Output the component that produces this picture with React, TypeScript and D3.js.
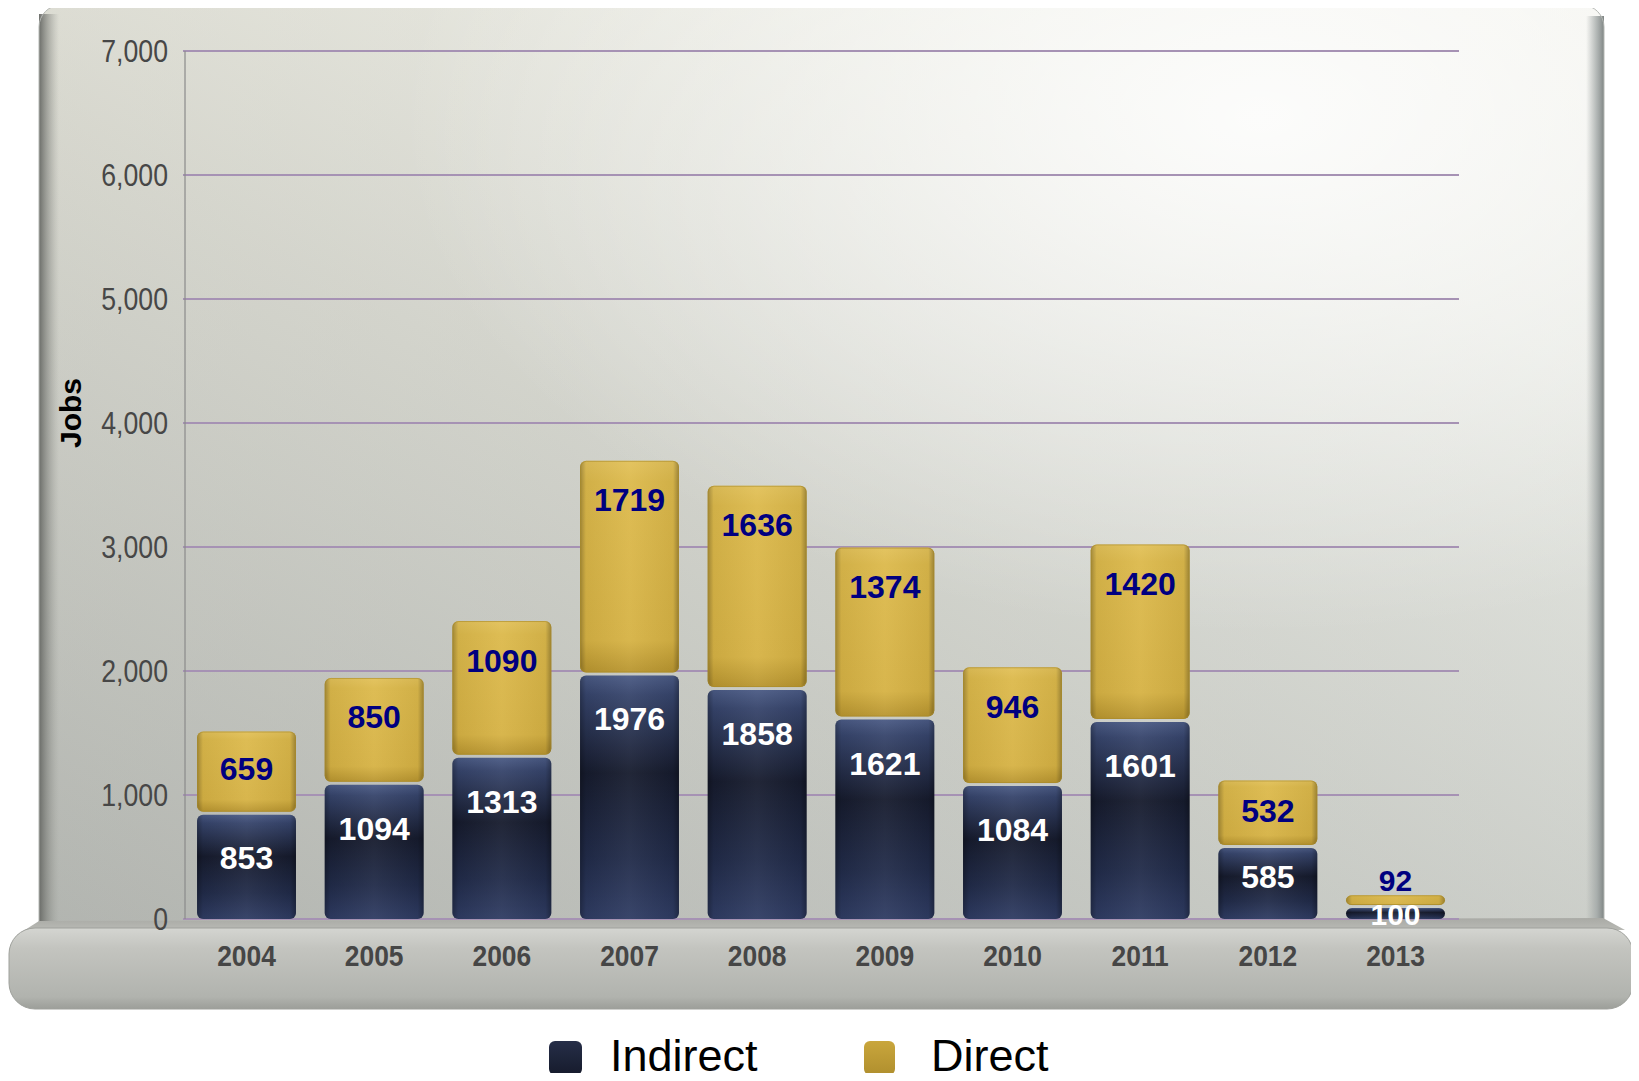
import React from "react";
import * as d3 from "d3";

const years = ["2004", "2005", "2006", "2007", "2008", "2009", "2010", "2011", "2012", "2013"];
const indirect = [853, 1094, 1313, 1976, 1858, 1621, 1084, 1601, 585, 100];
const direct = [659, 850, 1090, 1719, 1636, 1374, 946, 1420, 532, 92];
const yTicks = [0, 1000, 2000, 3000, 4000, 5000, 6000, 7000];
const seriesNames = ["Indirect", "Direct"];

const W = 1639;
const H = 1081;

export default function App() {
  const x = d3.scaleBand<string>().domain(years).range([183, 1459]).paddingInner(0.225).paddingOuter(0.11);
  const y = d3.scaleLinear().domain([0, 7000]).range([919, 51]);
  const fmt = d3.format(",");
  const bw = x.bandwidth();

  const narrow = "'Liberation Sans', Arial, sans-serif";

  return (
    <div style={{ margin: -8, width: W, height: H, background: "#fff" }}>
      <svg width={W} height={H} style={{ display: "block" }}>
        <defs>
          <linearGradient id="panelBase" x1="0" y1="1" x2="1" y2="0">
            <stop offset="0" stopColor="#b5b7b2" />
            <stop offset="0.45" stopColor="#d6d8d2" />
            <stop offset="0.8" stopColor="#f3f6f3" />
            <stop offset="1" stopColor="#fbfdfc" />
          </linearGradient>
          <radialGradient id="panelGlow" cx="0.78" cy="0.12" r="0.55">
            <stop offset="0" stopColor="#ffffff" stopOpacity="0.85" />
            <stop offset="1" stopColor="#ffffff" stopOpacity="0" />
          </radialGradient>
          <linearGradient id="panelTint" x1="0" y1="0" x2="0" y2="1">
            <stop offset="0" stopColor="#e0dccc" stopOpacity="0.35" />
            <stop offset="1" stopColor="#a8aca8" stopOpacity="0.3" />
          </linearGradient>
          <linearGradient id="leftEdge" x1="0" y1="0" x2="1" y2="0">
            <stop offset="0" stopColor="#666864" stopOpacity="0.95" />
            <stop offset="1" stopColor="#9a9c96" stopOpacity="0" />
          </linearGradient>
          <linearGradient id="rightEdge" x1="0" y1="0" x2="1" y2="0">
            <stop offset="0" stopColor="#a3a8a6" stopOpacity="0" />
            <stop offset="0.6" stopColor="#a0a6a5" stopOpacity="0.8" />
            <stop offset="1" stopColor="#7f8584" stopOpacity="1" />
          </linearGradient>
          <linearGradient id="floorFront" x1="0" y1="0" x2="0" y2="1">
            <stop offset="0" stopColor="#d4d5d1" />
            <stop offset="0.25" stopColor="#c3c4bf" />
            <stop offset="0.85" stopColor="#b1b3ae" />
            <stop offset="1" stopColor="#9c9e99" />
          </linearGradient>
          <linearGradient id="floorTop" x1="0" y1="0" x2="0" y2="1">
            <stop offset="0" stopColor="#a9aaa5" />
            <stop offset="1" stopColor="#bfc0bb" />
          </linearGradient>
          <linearGradient id="gIndirect" x1="0" y1="0" x2="0" y2="1">
            <stop offset="0" stopColor="#4a5a84" />
            <stop offset="0.08" stopColor="#36446b" />
            <stop offset="0.4" stopColor="#161b2d" />
            <stop offset="0.75" stopColor="#212b49" />
            <stop offset="1" stopColor="#2f3c63" />
          </linearGradient>
          <linearGradient id="gDirect" x1="0" y1="0" x2="0" y2="1">
            <stop offset="0" stopColor="#e2c159" />
            <stop offset="0.1" stopColor="#dcb94b" />
            <stop offset="0.85" stopColor="#d6b244" />
            <stop offset="1" stopColor="#b8952f" />
          </linearGradient>
          <linearGradient id="gSide" x1="0" y1="0" x2="1" y2="0">
            <stop offset="0" stopColor="#000" stopOpacity="0.28" />
            <stop offset="0.06" stopColor="#000" stopOpacity="0.05" />
            <stop offset="0.5" stopColor="#fff" stopOpacity="0.05" />
            <stop offset="0.94" stopColor="#000" stopOpacity="0.05" />
            <stop offset="1" stopColor="#000" stopOpacity="0.3" />
          </linearGradient>
          <linearGradient id="gLegInd" x1="0" y1="0" x2="0" y2="1">
            <stop offset="0" stopColor="#262e48" />
            <stop offset="1" stopColor="#161b2c" />
          </linearGradient>
          <linearGradient id="gLegDir" x1="0" y1="0" x2="0" y2="1">
            <stop offset="0" stopColor="#c9a63c" />
            <stop offset="1" stopColor="#b08f2e" />
          </linearGradient>
        </defs>

        {/* back panel */}
        <rect x={39} y={5} width={1565} height={940} rx={22} fill="url(#panelBase)" />
        <rect x={39} y={5} width={1565} height={940} rx={22} fill="url(#panelTint)" />
        <rect x={39} y={5} width={1565} height={940} rx={22} fill="url(#panelGlow)" />
        <rect x={39} y={14} width={20} height={920} fill="url(#leftEdge)" />
        <rect x={1586} y={16} width={18} height={918} fill="url(#rightEdge)" />
        <rect x={39} y={5} width={1565} height={940} rx={22} fill="none" stroke="#b5b8b4" strokeWidth={1} />

        {/* floor */}
        <path d="M39,921 L1603,918 L1625,930 L17,935 Z" fill="url(#floorTop)" />
        <rect x={9} y={928} width={1624} height={81} rx={26} fill="url(#floorFront)" />
        <rect x={9} y={928} width={1624} height={81} rx={26} fill="none" stroke="#9fa19c" strokeWidth={1} />

        {/* gridlines */}
        {yTicks.map((t) => (
          <line key={"g" + t} x1={183} x2={1459} y1={y(t)} y2={y(t)} stroke="#a692b4" strokeWidth={2} />
        ))}
        <line x1={185} x2={185} y1={y(7000)} y2={y(0)} stroke="#8a8a8a" strokeWidth={1.2} />

        {/* y tick labels */}
        {yTicks.map((t) => (
          <text
            key={"t" + t}
            transform={`translate(168,${y(t)}) scale(0.86,1)`}
            textAnchor="end"
            dy="0.36em"
            fontFamily={narrow}
            fontSize={31}
            fill="#474747"
          >
            {fmt(t)}
          </text>
        ))}

        {/* y title */}
        <text
          transform={`translate(70,413) rotate(-90)`}
          textAnchor="middle"
          dy="0.36em"
          fontFamily={narrow}
          fontWeight="bold"
          fontSize={30}
          fill="#000"
        >
          Jobs
        </text>

        {/* bars */}
        {years.map((yr, i) => {
          const x0 = x(yr)!;
          const i0 = y(0);
          const i1 = y(indirect[i]);
          const d1 = y(indirect[i] + direct[i]);
          const hi = i0 - i1;
          const hd = i1 - d1;
          const cx = x0 + bw / 2;
          const rI = Math.min(6, hi / 2);
          const rD = Math.min(6, hd / 2);
          const small = hd < 30;
          const indLabelY = small ? i1 + 8 : i1 + Math.min(45, hi * 0.42);
          const dirLabelY = small ? d1 - 15 : d1 + Math.min(39, hd * 0.45);
          const lblSize = small ? 30 : 32;
          return (
            <g key={yr}>
              <rect x={x0} y={i1 + 1.5} width={bw} height={hi - 1.5} rx={rI} fill="url(#gIndirect)" />
              <rect x={x0} y={i1 + 1.5} width={bw} height={hi - 1.5} rx={rI} fill="url(#gSide)" />
              <rect x={x0} y={d1} width={bw} height={hd - 1.5} rx={rD} fill="url(#gDirect)" />
              <rect x={x0} y={d1} width={bw} height={hd - 1.5} rx={rD} fill="url(#gSide)" />
              <rect x={x0 + 0.5} y={d1 + 0.5} width={bw - 1} height={hd - 2.5} rx={rD} fill="none" stroke="#a98a2a" strokeOpacity={0.6} strokeWidth={1} />
              <text x={cx} y={dirLabelY} dy="0.36em" textAnchor="middle" fontFamily={narrow} fontWeight="bold" fontSize={lblSize} fill="#000080">
                {direct[i]}
              </text>
              <text x={cx} y={indLabelY} dy="0.36em" textAnchor="middle" fontFamily={narrow} fontWeight="bold" fontSize={lblSize} fill="#ffffff">
                {indirect[i]}
              </text>
              <text
                transform={`translate(${cx},955) scale(0.88,1)`}
                dy="0.36em"
                textAnchor="middle"
                fontFamily={narrow}
                fontWeight="bold"
                fontSize={30}
                fill="#464646"
              >
                {yr}
              </text>
            </g>
          );
        })}

        {/* legend */}
        <rect x={549} y={1041} width={33} height={34} rx={6} fill="url(#gLegInd)" />
        <text x={610} y={1071} fontFamily={narrow} fontSize={45} fill="#000">
          {seriesNames[0]}
        </text>
        <rect x={864} y={1041} width={31} height={34} rx={6} fill="url(#gLegDir)" />
        <text x={931} y={1071} fontFamily={narrow} fontSize={45} fill="#000">
          {seriesNames[1]}
        </text>
      </svg>
    </div>
  );
}
